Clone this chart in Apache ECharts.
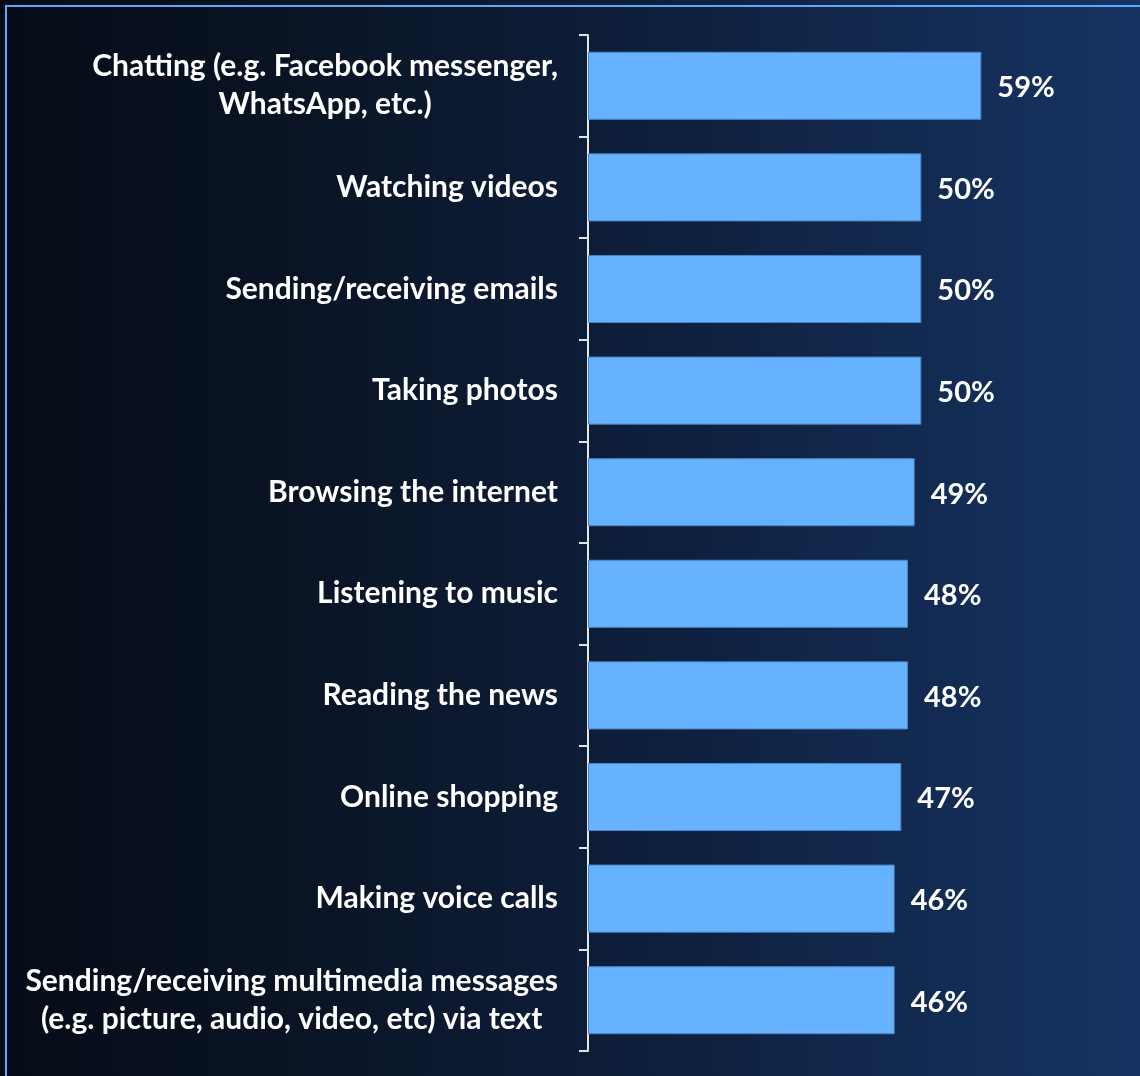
<!DOCTYPE html>
<html>
<head>
<meta charset="utf-8">
<title>Smartphone activities</title>
<script src="https://cdn.jsdelivr.net/npm/echarts@6/dist/echarts.min.js"></script>
<style>
  html, body { margin: 0; padding: 0; }
  body {
    width: 1140px; height: 1076px; overflow: hidden;
    background: linear-gradient(90deg, #060c17 0%, #0a1527 30%, #0f2140 62%, #163463 100%);
  }
  #chart { width: 1140px; height: 1076px; }
</style>
</head>
<body>
<div id="chart"></div>
<script>
// Share of respondents doing each activity on their phone
const activities = [
  'Chatting (e.g. Facebook messenger,\nWhatsApp, etc.)',
  'Watching videos',
  'Sending/receiving emails',
  'Taking photos',
  'Browsing the internet',
  'Listening to music',
  'Reading the news',
  'Online shopping',
  'Making voice calls',
  'Sending/receiving multimedia messages\n(e.g. picture, audio, video, etc) via text'
];
const shares = [59, 50, 50, 50, 49, 48, 48, 47, 46, 46];

const FONT = 'Lato, "Noto Sans", sans-serif';

const chart = echarts.init(document.getElementById('chart'), null, { renderer: 'canvas' });

chart.setOption({
  backgroundColor: 'transparent',
  animation: false,
  grid: { left: 588, right: 152, top: 35, bottom: 25, containLabel: false },
  xAxis: {
    type: 'value',
    min: 0,
    max: 60,
    show: false
  },
  yAxis: {
    type: 'category',
    inverse: true,
    data: activities,
    axisLine: { show: true, lineStyle: { color: '#e6e6e6', width: 2 } },
    axisTick: { show: true, length: 9, lineStyle: { color: '#e6e6e6', width: 2 } },
    splitLine: { show: false },
    axisLabel: {
      margin: 30,
      align: 'right',
      formatter: function (v) {
        return v.split('\n').map(function (s) { return '{c|' + s + '}'; }).join('\n');
      },
      rich: {
        c: {
          align: 'center',
          color: '#ffffff',
          fontFamily: FONT,
          fontWeight: 'bold',
          fontSize: 30,
          lineHeight: 38
        }
      }
    }
  },
  series: [{
    type: 'bar',
    data: shares,
    barCategoryGap: '33%',
    itemStyle: { color: '#66b2ff', borderColor: '#4a86c6', borderWidth: 1 },
    label: {
      show: true,
      position: 'right',
      distance: 16,
      offset: [0, 2],
      formatter: '{c}%',
      color: '#ffffff',
      fontFamily: FONT,
      fontWeight: 'bold',
      fontSize: 29
    }
  }],
  graphic: [{
    type: 'rect',
    silent: true,
    shape: { x: 6, y: 6, width: 2000, height: 2000 },
    style: { fill: 'none', stroke: '#5ea8f5', lineWidth: 2 }
  }]
});
</script>
</body>
</html>
